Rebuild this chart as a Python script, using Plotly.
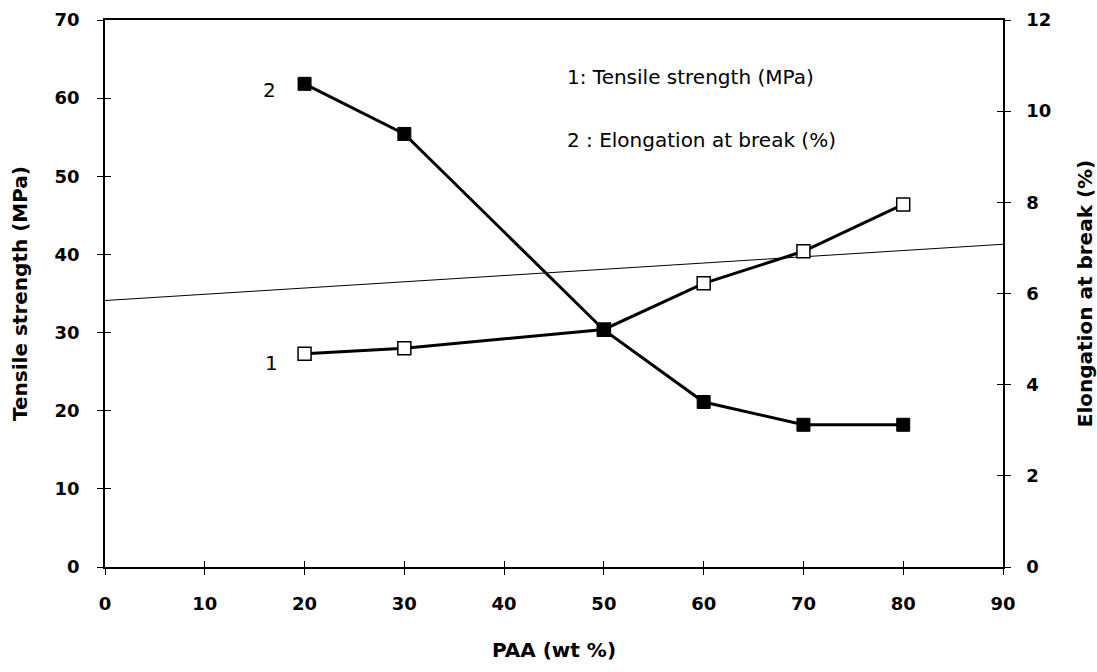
import plotly.graph_objects as go

# PAA content (wt %)
paa = [20, 30, 50, 60, 70, 80]
# Curve 1: tensile strength (MPa), left axis
tensile = [27.3, 28.0, 30.4, 36.3, 40.4, 46.4]
# Curve 2: elongation at break (%), right axis
elongation = [10.6, 9.5, 5.2, 3.62, 3.12, 3.12]
# Thin straight reference line across the plot (left axis units)
ref_x = [0, 90]
ref_y = [34.1, 41.3]

x_ticks = list(range(0, 91, 10))
y1_ticks = list(range(0, 71, 10))
y2_ticks = list(range(0, 13, 2))

FONT = "DejaVu Sans, Liberation Sans, Arial, sans-serif"
tick_font = dict(family=FONT, size=18, color="black", weight="bold")
title_font = dict(family=FONT, size=20, color="black", weight="bold")
text_font = dict(family=FONT, size=20, color="black")

fig = go.Figure()

fig.add_trace(go.Scatter(
    x=ref_x, y=ref_y, mode="lines",
    line=dict(color="black", width=1), showlegend=False, hoverinfo="skip"))

fig.add_trace(go.Scatter(
    x=paa, y=tensile, mode="lines+markers", name="1",
    line=dict(color="black", width=3),
    marker=dict(symbol="square", size=13, color="white",
                line=dict(color="black", width=1.5)),
    showlegend=False))

fig.add_trace(go.Scatter(
    x=paa, y=elongation, mode="lines+markers", name="2", yaxis="y2",
    line=dict(color="black", width=3),
    marker=dict(symbol="square", size=13, color="black",
                line=dict(color="black", width=1)),
    showlegend=False))

# empty traces so the overlay axes (inner tick halves) get drawn
for xa, ya in [("x2", "y"), ("x", "y3"), ("x", "y4")]:
    fig.add_trace(go.Scatter(x=[], y=[], xaxis=xa, yaxis=ya,
                             showlegend=False, hoverinfo="skip"))

inner = dict(ticks="inside", ticklen=6, tickwidth=1, tickcolor="black",
             showticklabels=False, showline=False, showgrid=False,
             zeroline=False, automargin=False)

fig.update_layout(
    width=1097, height=672,
    margin=dict(l=104.5, r=94.3, t=20, b=104.5, autoexpand=False),
    paper_bgcolor="white", plot_bgcolor="white",
    xaxis=dict(range=[0, 90], tickvals=x_ticks, ticks="outside", ticklen=6,
               tickwidth=1, tickcolor="black", showline=True, linewidth=1.5,
               linecolor="black", mirror=True, showgrid=False, zeroline=False,
               tickfont=tick_font, ticklabelstandoff=14, automargin=False,
               title=dict(text="PAA (wt %)", font=title_font, standoff=30)),
    xaxis2=dict(range=[0, 90], tickvals=x_ticks, overlaying="x", anchor="y",
                **inner),
    yaxis=dict(range=[0, 70], tickvals=y1_ticks, ticks="outside", ticklen=6,
               tickwidth=1, tickcolor="black", showline=True, linewidth=1.5,
               linecolor="black", showgrid=False, zeroline=False,
               tickfont=tick_font, ticklabelstandoff=14, automargin=False,
               title=dict(text="Tensile strength (MPa)", font=title_font,
                          standoff=22)),
    yaxis2=dict(range=[0, 12], tickvals=y2_ticks, overlaying="y", side="right",
                anchor="x", ticks="outside", ticklen=6, tickwidth=1,
                tickcolor="black", showline=True, linewidth=1.5,
                linecolor="black", showgrid=False, zeroline=False,
                tickfont=tick_font, ticklabelstandoff=12, automargin=False,
                title=dict(text="Elongation at break (%)", font=title_font,
                           standoff=30)),
    yaxis3=dict(range=[0, 70], tickvals=y1_ticks, overlaying="y", side="left",
                anchor="x", **inner),
    yaxis4=dict(range=[0, 12], tickvals=y2_ticks, overlaying="y", side="right",
                anchor="x", **inner),
    annotations=[
        dict(x=paa[0], y=elongation[0], xref="x", yref="y2", text="2",
             showarrow=False, xshift=-35, yshift=-6, font=text_font),
        dict(x=paa[0], y=tensile[0], xref="x", yref="y", text="1",
             showarrow=False, xshift=-33, yshift=-9, font=text_font),
        dict(x=0.512, y=0.896, xref="paper", yref="paper",
             text="1: Tensile strength (MPa)", showarrow=False,
             xanchor="left", yanchor="middle", font=text_font),
        dict(x=0.512, y=0.781, xref="paper", yref="paper",
             text="2 : Elongation at break (%)", showarrow=False,
             xanchor="left", yanchor="middle", font=text_font),
    ],
)

fig.write_html("out.html")
